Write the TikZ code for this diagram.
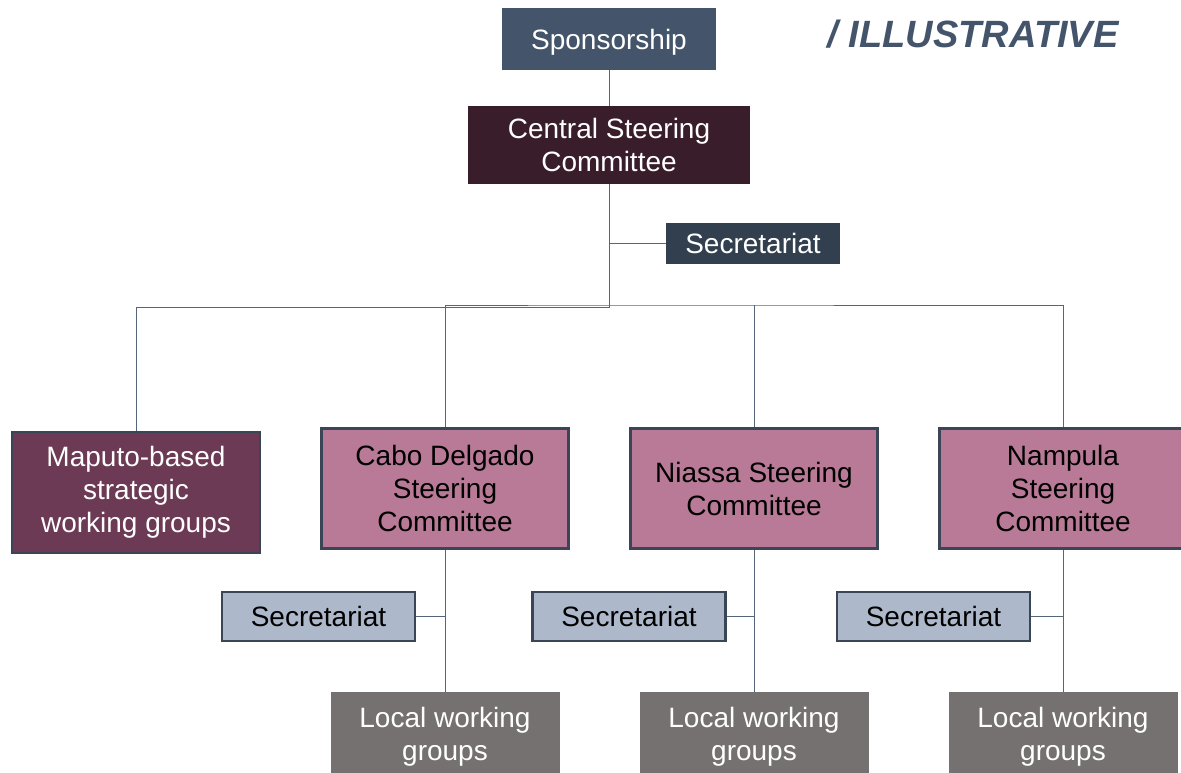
\documentclass[tikz,border=0pt]{standalone}
\usepackage{fontspec}
\setmainfont{Liberation Sans}
\usetikzlibrary{positioning}

\definecolor{sponsorblue}{HTML}{44546A}
\definecolor{centralplum}{HTML}{3A1D2B}
\definecolor{secdark}{HTML}{323F4F}
\definecolor{maputoplum}{HTML}{6C3A54}
\definecolor{provpink}{HTML}{B87A96}
\definecolor{seclight}{HTML}{ADB9CA}
\definecolor{localgrey}{HTML}{767171}
\definecolor{boxedge}{HTML}{3A4556}
\definecolor{linkline}{HTML}{55657A}

\begin{document}
\begin{tikzpicture}[x=1pt,y=-1pt,
    box/.style={rectangle,inner sep=0pt,align=center,
        font=\fontsize{28}{33}\selectfont},
    darkbox/.style={box,text=white},
    edgebox/.style={box,draw=boxedge,line width=2.5pt},
    link/.style={draw=linkline,line width=1pt}]
                \useasboundingbox (0,0) rectangle (1181,772);
                % top of the tree
                \node[darkbox,fill=sponsorblue,minimum width=214pt,minimum height=62pt,text depth=0pt] (spons) at (609,39) {Sponsorship};
                \node[darkbox,fill=centralplum,minimum width=282pt,minimum height=78pt] (csc) at (609,145) {Central Steering\\Committee};
                \node[darkbox,fill=secdark,minimum width=174pt,minimum height=41pt] (sec0) at (753,243.5) {Secretariat};
                \node[anchor=east,text=sponsorblue,font=\fontsize{38}{42}\selectfont\bfseries\itshape] (illus) at (1122,34) {/ ILLUSTRATIVE};
                \coordinate (busL) at (609,307);
                \coordinate (busR) at (609,305);
                % second level
                \node[edgebox,fill=maputoplum,text=white,minimum width=248pt,minimum height=121pt] (mwg) at (136,492.5) {Maputo-based\\strategic\\working groups};
                \node[edgebox,fill=provpink,minimum width=247pt,minimum height=120pt] (cdsc) at (445,488.5) {Cabo Delgado\\Steering\\Committee};
                \node[edgebox,fill=provpink,minimum width=247pt,minimum height=120pt] (nsc) at (754,488.5) {Niassa Steering\\Committee};
                \node[edgebox,fill=provpink,minimum width=247pt,minimum height=120pt] (npsc) at (1063,488.5) {Nampula\\Steering\\Committee};
                % provincial secretariats and local groups
                \node[edgebox,fill=seclight,minimum width=193pt,minimum height=49pt] (sec1) at (318.5,616.5) {Secretariat};
                \node[edgebox,fill=seclight,minimum width=193pt,minimum height=49pt] (sec2) at (629,616.5) {Secretariat};
                \node[edgebox,fill=seclight,minimum width=193pt,minimum height=49pt] (sec3) at (933.5,616.5) {Secretariat};
                \node[darkbox,fill=localgrey,minimum width=229pt,minimum height=84pt,text depth=0pt] (lwg1) at (445,734) {Local working\\groups};
                \node[darkbox,fill=localgrey,minimum width=229pt,minimum height=84pt,text depth=0pt] (lwg2) at (754,734) {Local working\\groups};
                \node[darkbox,fill=localgrey,minimum width=229pt,minimum height=84pt,text depth=0pt] (lwg3) at (1063,734) {Local working\\groups};
                % connectors
                \draw[link] (spons) -- (csc);
                \draw[link] (csc.south) -- (busL) -| (mwg.north);
                \draw[link] (csc.south |- sec0.west) -- (sec0.west);
                \draw[link] (cdsc.north) |- (busR) -| (npsc.north);
                \draw[link] (nsc.north) -- (nsc.north |- busR);
                \draw[link] (cdsc.south) -- (lwg1.north);
                \draw[link] (nsc.south) -- (lwg2.north);
                \draw[link] (npsc.south) -- (lwg3.north);
                \draw[link] (sec1.east) -- (sec1.east -| cdsc.south);
                \draw[link] (sec2.east) -- (sec2.east -| nsc.south);
                \draw[link] (sec3.east) -- (sec3.east -| npsc.south);
            \end{tikzpicture}
\end{document}
